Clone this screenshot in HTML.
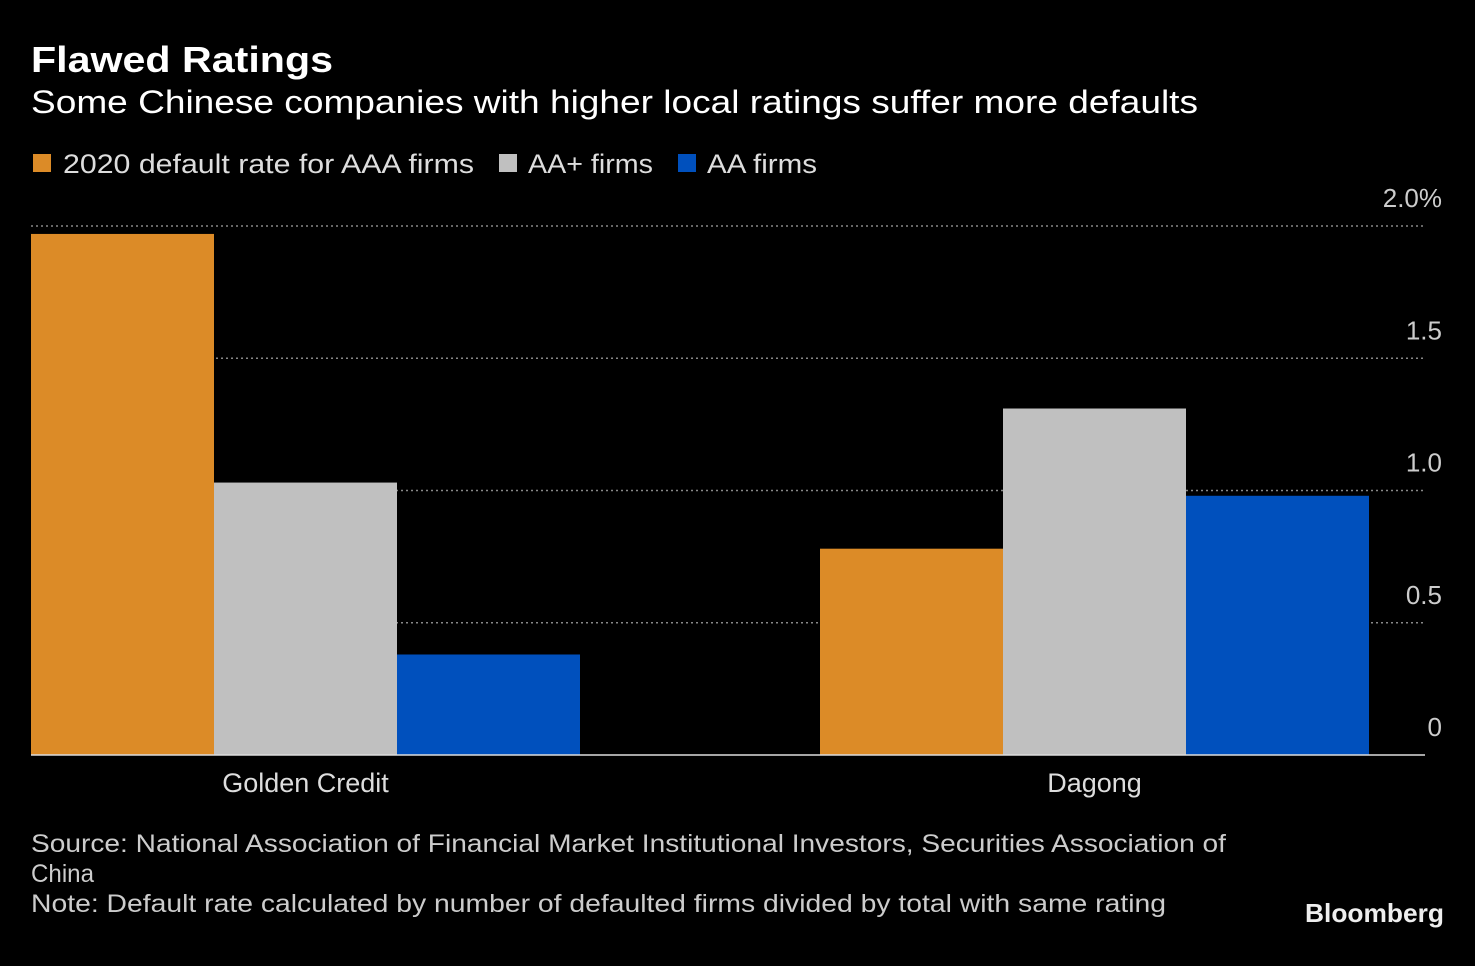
<!DOCTYPE html>
<html><head><meta charset="utf-8"><style>
html,body{margin:0;padding:0;background:#000;}
svg{display:block;font-family:"Liberation Sans",sans-serif;}
</style></head><body>
<svg id="chart" width="1475" height="966" viewBox="0 0 1475 966" xmlns="http://www.w3.org/2000/svg">
<rect width="1475" height="966" fill="#000"/>
<text x="31" y="72" fill="#fff" font-size="36" font-weight="bold" textLength="302" lengthAdjust="spacingAndGlyphs">Flawed Ratings</text>
<text x="31" y="113" fill="#fff" font-size="32" textLength="1167" lengthAdjust="spacingAndGlyphs">Some Chinese companies with higher local ratings suffer more defaults</text>
<g>
<g><rect x="33" y="154" width="18" height="18" fill="#dc8b27"/><text x="63" y="173" fill="#ddd" font-size="27" textLength="411" lengthAdjust="spacingAndGlyphs">2020 default rate for AAA firms</text></g>
<g><rect x="499" y="154" width="18" height="18" fill="#c0c0c0"/><text x="528" y="173" fill="#ddd" font-size="27" textLength="125" lengthAdjust="spacingAndGlyphs">AA+ firms</text></g>
<g><rect x="678" y="154" width="18" height="18" fill="#0050bd"/><text x="707" y="173" fill="#ddd" font-size="27" textLength="110" lengthAdjust="spacingAndGlyphs">AA firms</text></g>
</g>
<g id="grid"></g>
<g id="bars"></g>
<g id="ticks"></g>
<g id="cats"></g>
<line x1="31" x2="1425" y1="755" y2="755" stroke="#ddd" stroke-width="1.5"/>
<g fill="#ccc" font-size="25">
<text x="31" y="852" textLength="1195" lengthAdjust="spacingAndGlyphs">Source: National Association of Financial Market Institutional Investors, Securities Association of</text>
<text x="31" y="882" textLength="63" lengthAdjust="spacingAndGlyphs">China</text>
<text x="31" y="912" textLength="1135" lengthAdjust="spacingAndGlyphs">Note: Default rate calculated by number of defaulted firms divided by total with same rating</text>
</g>
<text x="1305" y="922" fill="#eee" font-size="26" font-weight="bold" textLength="139" lengthAdjust="spacingAndGlyphs">Bloomberg</text>
</svg>
<script>
const categories = ["Golden Credit", "Dagong"];
const aaaValues = [1.97, 0.78];
const aaPlusValues = [1.03, 1.31];
const aaValues = [0.38, 0.98];
const tickValues = [0, 0.5, 1.0, 1.5, 2.0];
const tickLabels = ["0", "0.5", "1.0", "1.5", "2.0%"];

const NS = "http://www.w3.org/2000/svg";
const y0 = 755, pxPerUnit = 264.5;
function yScale(v){ return y0 - v * pxPerUnit; }
const barW = 183;
function groupCenter(i){ return 305.5 + 789 * i; }
const series = [
  {name:"aaa", vals:aaaValues, color:"#dc8b27"},
  {name:"aa-plus", vals:aaPlusValues, color:"#c0c0c0"},
  {name:"aa", vals:aaValues, color:"#0050bd"}
];
function mk(tag, attrs){ const e=document.createElementNS(NS,tag); for(const k in attrs) e.setAttribute(k,attrs[k]); return e; }
const grid=document.getElementById("grid"), ticks=document.getElementById("ticks");
tickValues.forEach((t,i)=>{
  const y=yScale(t);
  if(t>0){
    const l=mk("line",{x1:31,x2:1425,y1:y,y2:y,stroke:"#888","stroke-width":1.5,"stroke-dasharray":"2,3"});
    
    
    grid.appendChild(l);
  }
  const tx=mk("text",{x:1442,y:y-19,fill:"#ccc","font-size":26,"text-anchor":"end"});
  
  
  tx.textContent=tickLabels[i];
  ticks.appendChild(tx);
});
const bars=document.getElementById("bars"), cats=document.getElementById("cats");
categories.forEach((c,i)=>{
  const cx=groupCenter(i);
  series.forEach((s,j)=>{
    const x=cx-1.5*barW+j*barW, y=yScale(s.vals[i]);
    const r=mk("rect",{x:x,y:y,width:barW,height:y0-y,fill:s.color});
    
    
    bars.appendChild(r);
  });
  const t=mk("text",{x:cx,y:792,fill:"#ddd","font-size":27,"text-anchor":"middle"});
  
  
  t.textContent=c;
  cats.appendChild(t);
});
</script>
</body></html>
